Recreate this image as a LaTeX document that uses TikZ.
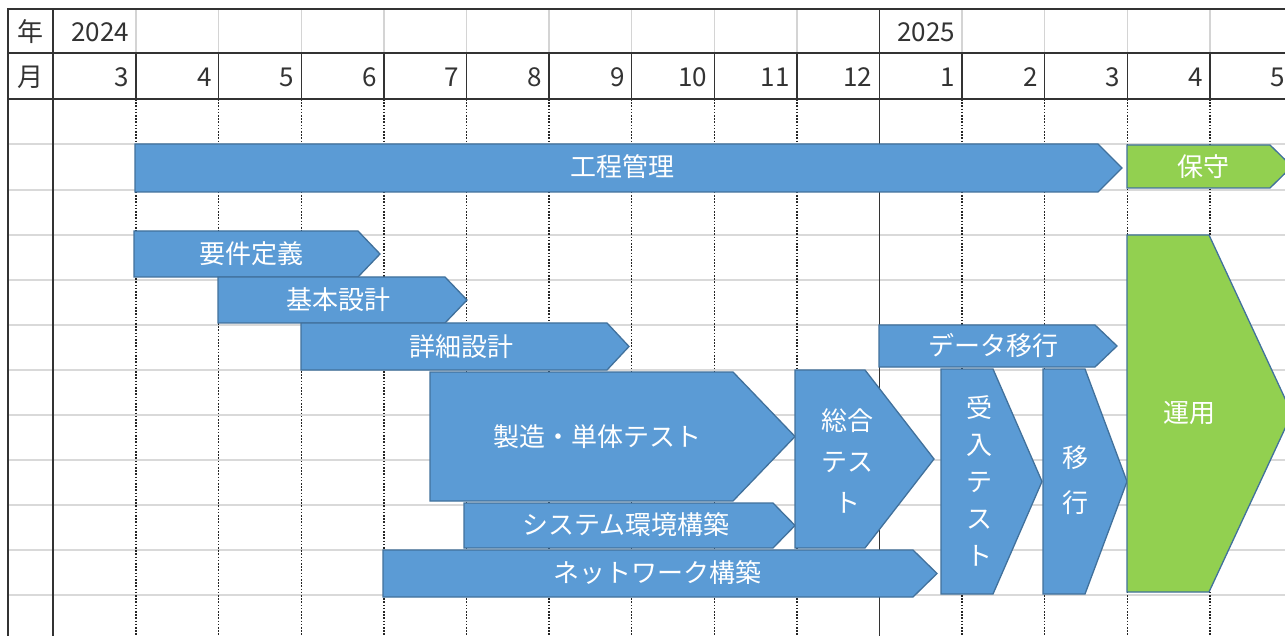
\documentclass[tikz,border=0pt]{standalone}
\usepackage{fontspec}
\setmainfont{Noto Sans CJK JP}
\definecolor{barblue}{HTML}{5B9BD5}
\definecolor{baredge}{HTML}{41719C}
\definecolor{bargreen}{HTML}{92D050}
\definecolor{gridgray}{HTML}{D9D9D9}
\definecolor{hdrgray}{HTML}{D4D4D4}
\definecolor{txtgray}{HTML}{333333}
\newcommand\hplate[6]{%
  \draw[#1] (#2,#3) -- (#5,#3) -- (#6,{(#3+#4)/2}) -- (#5,#4) -- (#2,#4) -- cycle;}
\begin{document}
\begin{tikzpicture}[x=1pt,y=-1pt,
  hline/.style={gridgray,line width=1.5pt},
  blackline/.style={black!80,line width=1.4pt},
  dotline/.style={black!85,line width=1.4pt,dash pattern=on 1.6pt off 1.6pt},
  hdrline/.style={hdrgray,line width=1.4pt},
  bluebar/.style={fill=barblue,draw=baredge,line width=1.3pt,line join=miter},
  greenbar/.style={fill=bargreen,draw=baredge,line width=1.3pt,line join=miter},
  hdrtext/.style={text=txtgray,font=\fontsize{26}{30}\selectfont,inner sep=0pt},
  bartext/.style={text=white,font=\fontsize{26}{30}\selectfont,inner sep=0pt}]
\useasboundingbox (0,0) rectangle (1285,636);
\clip (0,0) rectangle (1285,636);
\fill[white] (0,0) rectangle (1285,636);
% body horizontal gray lines
\foreach \y in {144,190,235,280,325,370,415,460,505,550,595}
  \draw[hline] (8,\y) -- (1285,\y);
% body vertical dotted lines
\foreach \k in {1,...,14}{
  \pgfmathsetmacro\xx{53.5+82.6*\k}
  \ifnum\k=10\relax\else
  \draw[dotline] (\xx,99) -- (\xx,636);
  \fi}
% year row gray lines
\foreach \k in {1,...,14}{
  \pgfmathsetmacro\xx{53.5+82.6*\k}
  \ifnum\k=10\relax\else
  \draw[hdrline] (\xx,10) -- (\xx,53);
  \fi}
% month row black lines
\foreach \k in {1,...,14}{
  \pgfmathsetmacro\xx{53.5+82.6*\k}
  \draw[blackline] (\xx,53) -- (\xx,99);}
% main black lines
\draw[blackline] (8,636) -- (8,9) -- (1285,9);
\draw[blackline] (8,53) -- (1285,53);
\draw[blackline] (8,99) -- (1285,99);
\draw[blackline] (53,9) -- (53,636);
\draw[blackline] (879.5,9) -- (879.5,636);
% header texts
\node[hdrtext] (nen) at (30,32) {年};
\node[hdrtext] (tsuki) at (30,77) {月};
\node[hdrtext] (y2024) at (100,32) {2024};
\node[hdrtext] (y2025) at (926,32) {2025};
\foreach \m [count=\k] in {3,4,5,6,7,8,9,10,11,12,1,2,3,4,5}{
  \pgfmathsetmacro\xx{53.5+82.6*\k-7}
  \node[hdrtext,anchor=east] (m\k) at (\xx,77) {\m};}
% bars
\hplate{bluebar}{135}{144}{192}{1098}{1122}
\hplate{greenbar}{1127}{145}{188}{1270}{1292}
\hplate{bluebar}{134}{231}{277}{358}{380}
\hplate{bluebar}{218}{277}{323}{445}{467}
\hplate{bluebar}{301}{323}{370}{607}{629}
\hplate{bluebar}{430}{372}{501}{733}{795}
\hplate{bluebar}{464}{503}{548}{773}{795}
\hplate{bluebar}{383}{550}{597}{913}{937}
\hplate{bluebar}{795}{370}{548}{865}{934}
\hplate{bluebar}{879}{325}{367}{1095}{1117}
\hplate{bluebar}{941}{369}{594}{993}{1042}
\hplate{bluebar}{1043}{369}{594}{1085}{1127}
\hplate{greenbar}{1127}{235}{592}{1209}{1292}
% bar labels
\node[bartext] (koutei) at (622,167) {工程管理};
\node[bartext] (hoshu) at (1203,167) {保守};
\node[bartext] (youken) at (251,254) {要件定義};
\node[bartext] (kihon) at (338,300) {基本設計};
\node[bartext] (shousai) at (461,347) {詳細設計};
\node[bartext] (seizou) at (597,437) {製造・単体テスト};
\node[bartext] (system) at (626,525) {システム環境構築};
\node[bartext] (network) at (657,573) {ネットワーク構築};
\node[bartext] (data) at (993,346) {データ移行};
\node[bartext] (unyou) at (1189,413) {運用};
\node[bartext,align=center,font=\fontsize{26}{41}\selectfont] (sougou) at (847,461) {総合\\テス\\ト};
\node[bartext,align=center,font=\fontsize{26}{37}\selectfont] (ukeire) at (979,481) {受\\入\\テ\\ス\\ト};
\node[bartext,align=center,font=\fontsize{26}{45}\selectfont] (ikou) at (1075,480) {移\\行};
\end{tikzpicture}
\end{document}
